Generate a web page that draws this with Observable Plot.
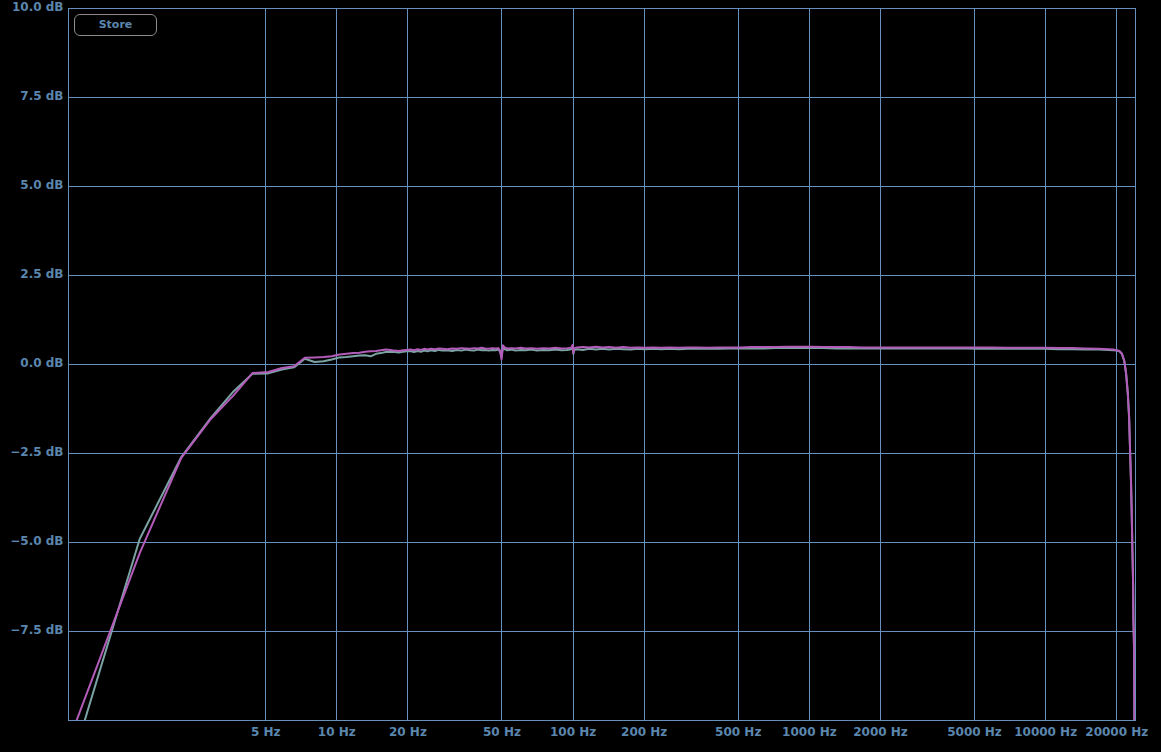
<!DOCTYPE html>
<html><head><meta charset="utf-8">
<script src="https://cdn.jsdelivr.net/npm/d3@7"></script>
<script src="https://cdn.jsdelivr.net/npm/@observablehq/plot@0.6"></script>
<style>
html,body{margin:0;padding:0;background:#000;}
#wrap{position:relative;width:1161px;height:752px;}
#wrap svg line, #wrap svg rect{shape-rendering:crispEdges;}
#store{position:absolute;left:74px;top:14px;width:81px;height:20px;border:1px solid #8c8c8c;border-radius:6px;color:#5b86ad;font:bold 11px "DejaVu Sans",sans-serif;text-align:center;line-height:20px;z-index:2;}
</style></head><body>
<div id="wrap"><div id="store">Store</div></div>
<script>
// Tick values
const xTicks = [5, 10, 20, 50, 100, 200, 500, 1000, 2000, 5000, 10000, 20000];
const yTicks = [10, 7.5, 5, 2.5, 0, -2.5, -5, -7.5];

// Low-frequency bins (Hz)
const lowFreqs = [0.732, 1.465, 2.197, 2.930, 3.662, 4.395, 5.127, 5.859, 6.592, 7.324, 8.057, 8.789, 9.521, 10.254, 10.986, 11.719, 12.451, 13.184, 13.916, 14.648, 15.381, 16.113, 16.846, 17.578, 18.311, 19.043, 19.775];
const lowTeal = [-11.5, -4.9, -2.6, -1.5, -0.75, -0.26, -0.25, -0.14, -0.08, 0.16, 0.07, 0.09, 0.14, 0.20, 0.21, 0.23, 0.25, 0.26, 0.23, 0.30, 0.32, 0.35, 0.36, 0.35, 0.34, 0.36, 0.37];
const lowMagenta = [-10.6, -5.3, -2.62, -1.53, -0.86, -0.24, -0.21, -0.10, -0.05, 0.19, 0.20, 0.21, 0.23, 0.28, 0.30, 0.32, 0.33, 0.36, 0.37, 0.38, 0.40, 0.42, 0.41, 0.39, 0.38, 0.40, 0.41];

// Mid band (Hz)
const midFreqs = [20.5, 21.2, 22.0, 22.7, 23.4, 24.2, 25.0, 26.0, 27.0, 28.0,
  29.3, 30.8, 32.2, 33.7, 35.2, 36.6, 38.1, 39.6, 41.0, 42.5,
  44.0, 45.4, 46.9, 48.3, 49.1, 49.8, 50.5, 51.3, 52.7, 54.9,
  57.1, 60.1, 63.0, 66.7, 70.3, 74.7, 79.1, 84.2, 89.4, 94.5,
  98.1, 99.6, 100.3, 101.1, 104, 110, 117, 125, 133, 142,
  152, 163, 175, 188, 202, 218, 236, 256, 280, 306,
  335, 370, 410, 455, 510, 570, 640, 720, 810, 910,
  1020, 1150, 1300, 1470, 1660, 1880, 2130, 2420, 2750, 3120,
  3550, 4040, 4600, 5230, 5950, 6770, 7700, 8760, 9970, 11300,
  12900, 14700, 16700, 18500, 19300];
const midTeal = [0.38, 0.35, 0.38, 0.36, 0.39, 0.37, 0.40, 0.38, 0.41, 0.39,
  0.40, 0.38, 0.41, 0.39, 0.42, 0.40, 0.39, 0.42, 0.40, 0.41,
  0.39, 0.41, 0.40, 0.42, 0.36, 0.22, 0.50, 0.43, 0.40, 0.42,
  0.39, 0.41, 0.40, 0.42, 0.39, 0.41, 0.40, 0.42, 0.40, 0.41,
  0.43, 0.50, 0.30, 0.41, 0.43, 0.41, 0.44, 0.42, 0.44, 0.42,
  0.44, 0.43, 0.42, 0.44, 0.43, 0.44, 0.43, 0.44, 0.43, 0.44,
  0.44, 0.44, 0.44, 0.45, 0.45, 0.45, 0.45, 0.46, 0.46, 0.46,
  0.46, 0.46, 0.45, 0.45, 0.45, 0.45, 0.45, 0.45, 0.45, 0.45,
  0.45, 0.45, 0.45, 0.44, 0.44, 0.44, 0.44, 0.44, 0.44, 0.43,
  0.43, 0.42, 0.42, 0.41, 0.40];
const midMagenta = [0.42, 0.40, 0.43, 0.41, 0.44, 0.42, 0.44, 0.43, 0.45, 0.44,
  0.43, 0.45, 0.44, 0.46, 0.45, 0.44, 0.46, 0.45, 0.47, 0.45,
  0.44, 0.46, 0.45, 0.46, 0.38, 0.14, 0.54, 0.48, 0.45, 0.46,
  0.45, 0.47, 0.45, 0.46, 0.44, 0.46, 0.45, 0.47, 0.45, 0.46,
  0.47, 0.55, 0.32, 0.46, 0.48, 0.49, 0.48, 0.50, 0.48, 0.49,
  0.47, 0.49, 0.47, 0.48, 0.47, 0.48, 0.47, 0.48, 0.47, 0.48,
  0.48, 0.47, 0.48, 0.48, 0.48, 0.49, 0.49, 0.49, 0.50, 0.50,
  0.50, 0.49, 0.49, 0.49, 0.48, 0.48, 0.48, 0.48, 0.48, 0.48,
  0.48, 0.48, 0.48, 0.48, 0.48, 0.47, 0.47, 0.47, 0.47, 0.46,
  0.46, 0.45, 0.44, 0.43, 0.42];

// High-frequency roll-off (Hz)
const highFreqs = [20010, 20500, 21010, 21490, 21900, 22270, 22550, 22770, 22990, 23150, 23290, 23450, 23510, 23680, 23740, 24000];
const highTeal = [0.39, 0.37, 0.30, 0.11, -0.26, -0.83, -1.50, -2.45, -3.40, -4.33, -5.27, -6.22, -7.15, -8.10, -9.95, -14];
const highMagenta = [0.40, 0.38, 0.31, 0.12, -0.25, -0.81, -1.47, -2.41, -3.35, -4.28, -5.22, -6.16, -7.09, -8.03, -9.90, -14];

const freqs = [...lowFreqs, ...midFreqs, ...highFreqs];
const teal = [...lowTeal, ...midTeal, ...highTeal];
const magenta = [...lowMagenta, ...midMagenta, ...highMagenta];

const tealData = freqs.map((f, i) => ({f, db: teal[i]}));
const magentaData = freqs.map((f, i) => ({f, db: magenta[i]}));

const gridColor = "#6790bb";
const textColor = "#5b86ad";

const chart = Plot.plot({
  width: 1161,
  height: 752,
  marginLeft: 68,
  marginRight: 26,
  marginTop: 8,
  marginBottom: 32,
  style: {background: "#000", color: textColor, fontFamily: "'DejaVu Sans', sans-serif", fontSize: "12px", fontWeight: "bold", overflow: "visible"},
  x: {type: "log", domain: [0.732, 24000], axis: null},
  y: {domain: [-10, 10], axis: null},
  marks: [
    Plot.gridX(xTicks, {stroke: gridColor, strokeOpacity: 1}),
    Plot.gridY(yTicks, {stroke: gridColor, strokeOpacity: 1}),
    Plot.frame({stroke: gridColor}),
    Plot.line(tealData, {x: "f", y: "db", stroke: "#7ca3a4", strokeWidth: 2, clip: true}),
    Plot.line(magentaData, {x: "f", y: "db", stroke: "#b35cb9", strokeWidth: 2, clip: true}),
    Plot.text(xTicks, {x: d => d, frameAnchor: "bottom", dy: 15, text: d => `${d} Hz`, fill: textColor}),
    Plot.text(yTicks, {y: d => d, frameAnchor: "left", dx: -5, dy: -1, textAnchor: "end", text: d => d3.format(".1f")(d) + " dB", fill: textColor})
  ]
});
document.getElementById("wrap").insertBefore(chart, document.getElementById("store"));
</script>
</body></html>
